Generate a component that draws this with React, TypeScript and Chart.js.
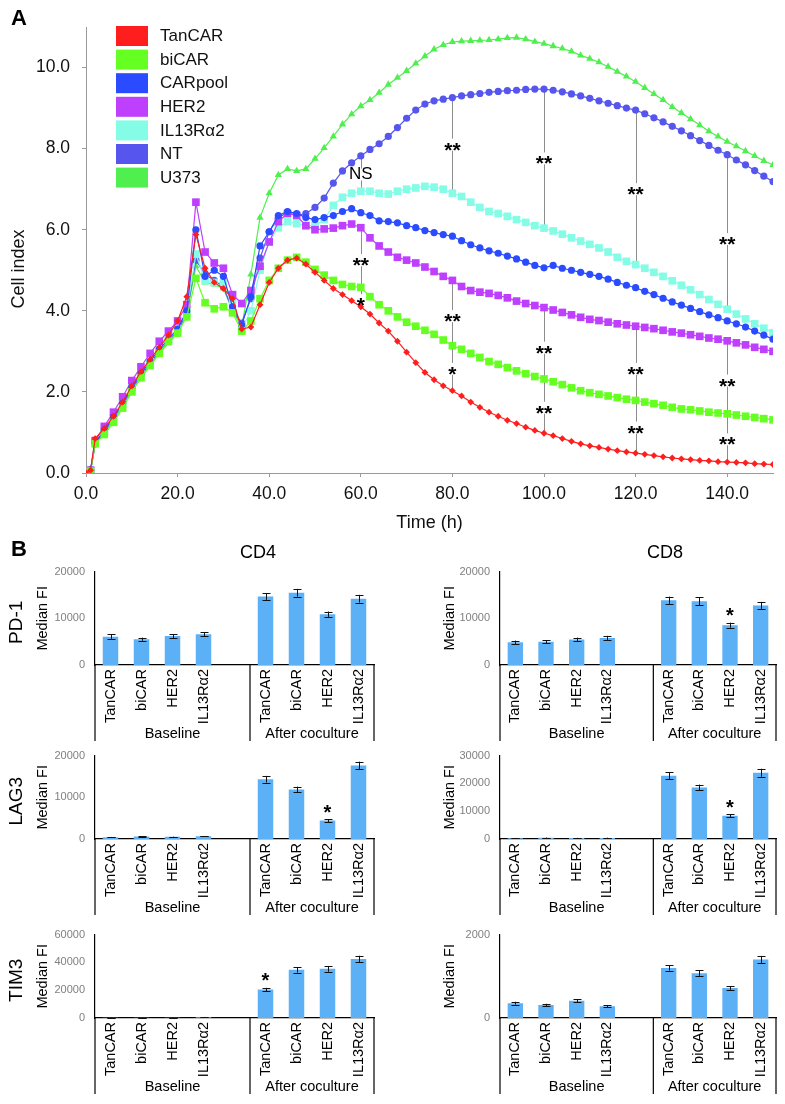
import React, { useEffect, useRef } from 'react';
import { Chart, registerables } from 'chart.js';

Chart.register(...registerables);

const FONT_FAMILY = '"Liberation Sans", Arial, Helvetica, sans-serif';

// ---------------- Panel A data ----------------
const hours = [0, 1, 2, 4, 6, 8, 10, 12, 14, 16, 18, 20, 22, 24, 26, 28, 30, 32, 34, 36, 38, 40, 42, 44, 46, 48, 50, 52, 54, 56, 58, 60, 62, 64, 66, 68, 70, 72, 74, 76, 78, 80, 82, 84, 86, 88, 90, 92, 94, 96, 98, 100, 102, 104, 106, 108, 110, 112, 114, 116, 118, 120, 122, 124, 126, 128, 130, 132, 134, 136, 138, 140, 142, 144, 146, 148, 150];

const tanCAR = [0, 0.07, 0.85, 1.1, 1.4, 1.75, 2.15, 2.5, 2.8, 3.1, 3.4, 3.75, 4.35,
  5.88, 5.05, 4.7, 4.55, 4.3, 3.55, 3.6, 4.15, 4.7, 5.05, 5.25, 5.3, 5.15,
  4.95, 4.75, 4.55, 4.4, 4.25, 4.1, 3.92, 3.7, 3.5, 3.25, 2.98, 2.72,
  2.48, 2.3, 2.15, 2.03, 1.9, 1.75, 1.62, 1.5, 1.4, 1.3, 1.22, 1.13,
  1.05, 0.98, 0.92, 0.85, 0.78, 0.72, 0.67, 0.63, 0.59, 0.55, 0.52, 0.49,
  0.46, 0.43, 0.4, 0.37, 0.35, 0.33, 0.31, 0.3, 0.28, 0.27, 0.26, 0.25, 0.23, 0.22, 0.21];

const biCAR = [0, 0.05, 0.72, 0.95, 1.25, 1.6, 2.0, 2.35, 2.65, 2.95, 3.25, 3.45, 3.85,
  4.8, 4.2, 4.05, 4.1, 3.95, 3.5, 3.75, 4.3, 4.75, 5.05, 5.25, 5.32, 5.2,
  5.02, 4.88, 4.75, 4.65, 4.6, 4.58, 4.35, 4.15, 4.0, 3.85, 3.72, 3.62,
  3.52, 3.42, 3.28, 3.14, 3.05, 2.95, 2.85, 2.75, 2.68, 2.6, 2.52, 2.45,
  2.38, 2.32, 2.25, 2.18, 2.1, 2.03, 1.98, 1.94, 1.9, 1.86, 1.82, 1.79,
  1.75, 1.71, 1.67, 1.62, 1.58, 1.56, 1.53, 1.5, 1.48, 1.46, 1.43, 1.4, 1.37, 1.34, 1.31];

const carPool = [0, 0.08, 0.75, 1.05, 1.38, 1.72, 2.1, 2.45, 2.75, 3.05, 3.3, 3.55, 4.0,
  6.0, 4.85, 5.0, 4.85, 4.1, 3.65, 4.35, 5.6, 5.95, 6.35, 6.45, 6.4, 6.3,
  6.25, 6.3, 6.35, 6.45, 6.52, 6.42, 6.35, 6.22, 6.2, 6.17, 6.1, 6.05,
  5.98, 5.93, 5.88, 5.84, 5.73, 5.63, 5.55, 5.48, 5.42, 5.35, 5.28, 5.2,
  5.12, 5.06, 5.12, 5.05, 5.0, 4.95, 4.9, 4.85, 4.78, 4.7, 4.63, 4.57,
  4.48, 4.4, 4.31, 4.22, 4.14, 4.06, 3.98, 3.9, 3.83, 3.75, 3.68, 3.6, 3.5, 3.4, 3.3];

const her2 = [0, 0.07, 0.8, 1.15, 1.5, 1.88, 2.28, 2.62, 2.95, 3.25, 3.5, 3.75, 4.15,
  6.68, 5.45, 5.18, 5.05, 4.4, 4.18, 4.5, 5.1, 5.7, 6.2, 6.4, 6.35, 6.1,
  6.0, 6.02, 6.04, 6.1, 6.14, 6.05, 5.8, 5.6, 5.45, 5.32, 5.25, 5.18,
  5.08, 4.97, 4.85, 4.75, 4.6, 4.5, 4.46, 4.43, 4.38, 4.32, 4.24, 4.18,
  4.13, 4.08, 4.02, 3.96, 3.9, 3.84, 3.79, 3.76, 3.72, 3.68, 3.65, 3.62,
  3.59, 3.56, 3.52, 3.48, 3.45, 3.41, 3.37, 3.33, 3.3, 3.26, 3.21, 3.16, 3.1, 3.05, 3.0];

const il13Ra2 = [0, 0.06, 0.76, 1.05, 1.38, 1.72, 2.1, 2.45, 2.75, 3.05, 3.3, 3.55, 4.0,
  5.4, 4.75, 4.7, 4.7, 4.25, 3.55, 4.0, 5.0, 5.7, 6.05, 6.2, 6.15, 6.1,
  6.1, 6.25, 6.6, 6.8, 6.9, 6.95, 6.95, 6.9, 6.88, 6.95, 7.0, 7.03,
  7.07, 7.05, 7.0, 6.9, 6.82, 6.68, 6.55, 6.45, 6.4, 6.33, 6.25, 6.18,
  6.1, 6.04, 5.97, 5.89, 5.8, 5.72, 5.64, 5.55, 5.45, 5.32, 5.22, 5.14,
  5.05, 4.95, 4.85, 4.74, 4.63, 4.52, 4.4, 4.28, 4.16, 4.04, 3.92, 3.8, 3.68, 3.57, 3.46];

const nt = [0, 0.07, 0.72, 1.02, 1.35, 1.7, 2.05, 2.4, 2.7, 3.0, 3.25, 3.5, 3.95,
  5.25, 4.9, 4.75, 4.6, 4.0, 3.7, 4.3, 5.3, 5.95, 6.3, 6.42, 6.35, 6.4,
  6.55, 6.78, 7.15, 7.45, 7.65, 7.82, 7.98, 8.12, 8.3, 8.52, 8.75, 8.95,
  9.1, 9.18, 9.22, 9.26, 9.3, 9.33, 9.36, 9.39, 9.41, 9.43, 9.44, 9.46,
  9.47, 9.47, 9.44, 9.4, 9.35, 9.3, 9.24, 9.18, 9.12, 9.06, 9.0, 8.95,
  8.86, 8.76, 8.66, 8.55, 8.44, 8.32, 8.2, 8.08, 7.96, 7.85, 7.72, 7.6, 7.46, 7.32, 7.19];

const u373 = [0, 0.05, 0.7, 0.98, 1.3, 1.65, 2.0, 2.35, 2.65, 2.95, 3.2, 3.45, 3.9,
  5.1, 4.7, 4.65, 4.55, 4.0, 3.6, 4.9, 6.3, 6.9, 7.35, 7.5, 7.45, 7.5,
  7.75, 8.02, 8.3, 8.6, 8.85, 9.05, 9.2, 9.38, 9.58, 9.75, 9.92, 10.1,
  10.28, 10.45, 10.56, 10.63, 10.65, 10.66, 10.67, 10.68, 10.7, 10.73, 10.74, 10.7,
  10.64, 10.59, 10.53, 10.47, 10.4, 10.3, 10.22, 10.13, 10.02, 9.9, 9.78, 9.65,
  9.5, 9.35, 9.2, 9.03, 8.88, 8.73, 8.58, 8.43, 8.3, 8.17, 8.06, 7.94, 7.82, 7.7, 7.6];

const seriesNames = ['TanCAR', 'biCAR', 'CARpool', 'HER2', 'IL13Rα2', 'NT', 'U373'];
const seriesValues = [tanCAR, biCAR, carPool, her2, il13Ra2, nt, u373];
const seriesColors = ['#ff1e1e', '#66ff22', '#2a4bff', '#bf3fff', '#84fce6', '#5656ee', '#4fef4f'];
const seriesMarkers = ['rectRot', 'rect', 'circle', 'rect', 'rect', 'circle', 'triangle'];
const seriesMarkerSize = [3.4, 5.4, 3.6, 5.4, 5.4, 3.6, 4.2];

// significance marks: time, line from / to (cell index), label and label position
const sigMarks = [
  { t: 60, from: 7.75, to: 7.02, label: 'NS', at: 7.36 },
  { t: 60, from: 6.0, to: 4.58, label: '**', at: 5.25 },
  { t: 60, from: 4.58, to: 4.1, label: '*', at: 4.26 },
  { t: 80, from: 9.22, to: 6.92, label: '**', at: 8.1 },
  { t: 80, from: 4.72, to: 3.14, label: '**', at: 3.87 },
  { t: 80, from: 3.14, to: 2.03, label: '*', at: 2.57 },
  { t: 100, from: 9.45, to: 6.05, label: '**', at: 7.76 },
  { t: 100, from: 4.06, to: 2.33, label: '**', at: 3.09 },
  { t: 100, from: 2.33, to: 0.98, label: '**', at: 1.61 },
  { t: 120, from: 8.93, to: 5.14, label: '**', at: 7.0 },
  { t: 120, from: 3.62, to: 1.8, label: '**', at: 2.57 },
  { t: 120, from: 1.8, to: 0.49, label: '**', at: 1.12 },
  { t: 140, from: 7.83, to: 4.04, label: '**', at: 5.77 },
  { t: 140, from: 3.26, to: 1.46, label: '**', at: 2.28 },
  { t: 140, from: 1.46, to: 0.27, label: '**', at: 0.83 },
];

// ---------------- Panel B data ----------------
const barCategories = ['TanCAR', 'biCAR', 'HER2', 'IL13Rα2', '', 'TanCAR', 'biCAR', 'HER2', 'IL13Rα2'];
const groupNames = ['Baseline', 'After coculture'];

const cd4PD1 = [6070, 5530, 6200, 6600, null, 14670, 15470, 10870, 14200];
const cd4PD1Err = [470, 330, 430, 430, null, 730, 830, 570, 830];
const cd8PD1 = [4850, 4980, 5460, 5800, null, 13860, 13650, 8530, 12760];
const cd8PD1Err = [370, 300, 400, 440, null, 780, 820, 550, 750];
const cd4LAG3 = [440, 590, 510, 660, null, 14340, 11900, 4410, 17650];
const cd4LAG3Err = [60, 50, 50, 60, null, 800, 660, 330, 900];
const cd8LAG3 = [300, 450, 350, 400, null, 22750, 18570, 8350, 23850];
const cd8LAG3Err = [80, 80, 80, 80, null, 1260, 1000, 550, 1430];
const cd4TIM3 = [200, 250, 200, 600, null, 20500, 34700, 35350, 42500];
const cd4TIM3Err = [100, 100, 100, 150, null, 1200, 2000, 2100, 2300];
const cd8TIM3 = [356, 313, 415, 284, null, 1200, 1076, 720, 1404];
const cd8TIM3Err = [33, 29, 36, 29, null, 62, 65, 44, 84];

const barPanels = [
  { marker: 'PD-1', values: cd4PD1, errors: cd4PD1Err, max: 20000, step: 10000, star: -1, row: 0, col: 0 },
  { marker: 'PD-1', values: cd8PD1, errors: cd8PD1Err, max: 20000, step: 10000, star: 7, row: 0, col: 1 },
  { marker: 'LAG3', values: cd4LAG3, errors: cd4LAG3Err, max: 20000, step: 10000, star: 7, row: 1, col: 0 },
  { marker: 'LAG3', values: cd8LAG3, errors: cd8LAG3Err, max: 30000, step: 10000, star: 7, row: 1, col: 1 },
  { marker: 'TIM3', values: cd4TIM3, errors: cd4TIM3Err, max: 60000, step: 20000, star: 5, row: 2, col: 0 },
  { marker: 'TIM3', values: cd8TIM3, errors: cd8TIM3Err, max: 2000, step: 2000, star: -1, row: 2, col: 1 },
];

const rowLayout = [
  { top: 555, padTop: 10, plot: 100 },
  { top: 739, padTop: 9, plot: 91 },
  { top: 918, padTop: 9, plot: 91 },
];
const colLayout = [
  { left: 0, width: 392, axis: 95, padRight: 18, titleGap: 52, showMarker: true },
  { left: 392, width: 393, axis: 108, padRight: 9, titleGap: 50, showMarker: false },
];
const X_AXIS_H = 80;
const BAR_COLOR = '#5cb0f6';

// ---------------- Panel A ----------------
const legendPlugin = {
  id: 'customLegend',
  afterDraw(chart: any) {
    const ctx = chart.ctx;
    ctx.save();
    chart.data.datasets.forEach((ds: any, i: number) => {
      const top = 26 + i * 23.6;
      ctx.fillStyle = ds.borderColor;
      ctx.fillRect(116, top, 32, 20);
      ctx.fillStyle = '#111';
      ctx.font = `17px ${FONT_FAMILY}`;
      ctx.textBaseline = 'middle';
      ctx.textAlign = 'left';
      ctx.fillText(ds.label, 160, top + 10.5);
    });
    ctx.restore();
  },
};

const yTitlePlugin = {
  id: 'yTitleA',
  afterDraw(chart: any) {
    const ctx = chart.ctx;
    ctx.save();
    ctx.translate(19, 269);
    ctx.rotate(-Math.PI / 2);
    ctx.font = `18px ${FONT_FAMILY}`;
    ctx.fillStyle = '#111';
    ctx.textAlign = 'center';
    ctx.textBaseline = 'middle';
    ctx.fillText('Cell index', 0, 0);
    ctx.restore();
  },
};

const STAR_SIZE = 21;
const sigPlugin = {
  id: 'sigMarks',
  beforeDatasetsDraw(chart: any) {
    const { ctx, scales } = chart;
    const xs = scales.x;
    const ys = scales.y;
    ctx.save();
    ctx.strokeStyle = '#8c8c8c';
    ctx.lineWidth = 1;
    sigMarks.forEach((m) => {
      const px = Math.round(xs.getPixelForValue(m.t)) + 0.5;
      ctx.beginPath();
      ctx.moveTo(px, ys.getPixelForValue(m.from));
      ctx.lineTo(px, ys.getPixelForValue(m.to));
      ctx.stroke();
    });
    ctx.fillStyle = '#ffffff';
    sigMarks.forEach((m) => {
      const px = xs.getPixelForValue(m.t);
      const py = ys.getPixelForValue(m.at);
      ctx.font = m.label === 'NS' ? `17px ${FONT_FAMILY}` : `bold ${STAR_SIZE}px ${FONT_FAMILY}`;
      const w = ctx.measureText(m.label).width;
      ctx.fillRect(px - w / 2 - 1, py - 6, w + 2, 12);
    });
    ctx.restore();
  },
  afterDatasetsDraw(chart: any) {
    const { ctx, scales } = chart;
    const xs = scales.x;
    const ys = scales.y;
    ctx.save();
    ctx.fillStyle = '#000';
    ctx.textAlign = 'center';
    sigMarks.forEach((m) => {
      const px = xs.getPixelForValue(m.t);
      const py = ys.getPixelForValue(m.at);
      if (m.label === 'NS') {
        ctx.font = `17px ${FONT_FAMILY}`;
        ctx.textBaseline = 'middle';
        ctx.fillText(m.label, px, py);
      } else {
        ctx.font = `bold ${STAR_SIZE}px ${FONT_FAMILY}`;
        ctx.textBaseline = 'alphabetic';
        ctx.fillText(m.label, px, py + 0.57 * STAR_SIZE);
      }
    });
    ctx.restore();
  },
};

function PanelA() {
  const ref = useRef<HTMLCanvasElement>(null);
  useEffect(() => {
    if (!ref.current) return;
    const datasets = seriesValues.map((vals, i) => ({
      label: seriesNames[i],
      data: hours.map((h, j) => ({ x: h, y: vals[j] })),
      borderColor: seriesColors[i],
      backgroundColor: seriesColors[i],
      pointBackgroundColor: seriesColors[i],
      pointBorderColor: seriesColors[i],
      pointBorderWidth: 0,
      pointStyle: seriesMarkers[i],
      pointRadius: seriesMarkerSize[i],
      borderWidth: 1.2,
      tension: 0,
    }));
    const chart = new Chart(ref.current, {
      type: 'line',
      data: { datasets } as any,
      options: {
        animation: false,
        responsive: false,
        events: [],
        layout: { padding: { top: 27, right: 12, left: 0, bottom: 0 } },
        plugins: { legend: { display: false }, tooltip: { enabled: false } },
        scales: {
          x: {
            type: 'linear',
            min: 0,
            max: 150,
            ticks: {
              stepSize: 20,
              includeBounds: false,
              maxRotation: 0,
              padding: 7,
              color: '#111',
              font: { size: 17.5, family: FONT_FAMILY },
              callback: (v: any) => Number(v).toFixed(1),
            },
            grid: { drawOnChartArea: false, drawTicks: true, tickLength: 4, color: '#9a9a9a' },
            border: { color: '#9a9a9a', width: 1 },
            title: {
              display: true,
              text: 'Time (h)',
              color: '#111',
              font: { size: 18, family: FONT_FAMILY },
              padding: { top: 0, bottom: 6 },
            },
            afterFit: (s: any) => { s.height = 67; },
          },
          y: {
            min: 0,
            max: 11,
            ticks: {
              stepSize: 2,
              includeBounds: false,
              padding: 12,
              color: '#111',
              font: { size: 17.5, family: FONT_FAMILY },
              callback: (v: any) => Number(v).toFixed(1),
            },
            grid: { drawOnChartArea: false, drawTicks: true, tickLength: 4, color: '#9a9a9a' },
            border: { color: '#9a9a9a', width: 1 },
            afterFit: (s: any) => { s.width = 86; },
          },
        },
      } as any,
      plugins: [legendPlugin, yTitlePlugin, sigPlugin],
    });
    return () => chart.destroy();
  }, []);
  return <canvas ref={ref} width={785} height={540} style={{ position: 'absolute', left: 0, top: 0 }} />;
}

// ---------------- Panel B ----------------
function makeBarPlugin(panel: any, col: any) {
  return {
    id: 'barExtras',
    afterDatasetsDraw(chart: any) {
      const { ctx, chartArea, scales } = chart;
      const ys = scales.y;
      const meta = chart.getDatasetMeta(0);
      ctx.save();
      // error bars
      ctx.strokeStyle = '#111';
      ctx.lineWidth = 1;
      meta.data.forEach((el: any, i: number) => {
        const v = panel.values[i];
        const e = panel.errors[i];
        if (v == null || e == null) return;
        const x = Math.round(el.x) + 0.5;
        const yt = ys.getPixelForValue(v + e);
        const yb = ys.getPixelForValue(v - e);
        ctx.beginPath();
        ctx.moveTo(x, yt);
        ctx.lineTo(x, yb);
        ctx.moveTo(x - 4, Math.round(yt) + 0.5);
        ctx.lineTo(x + 4, Math.round(yt) + 0.5);
        ctx.moveTo(x - 4, Math.round(yb) + 0.5);
        ctx.lineTo(x + 4, Math.round(yb) + 0.5);
        ctx.stroke();
        if (i === panel.star) {
          ctx.fillStyle = '#000';
          ctx.font = `bold 20px ${FONT_FAMILY}`;
          ctx.textAlign = 'center';
          ctx.textBaseline = 'alphabetic';
          ctx.fillText('*', el.x, yt - 12 + 0.57 * 20);
        }
      });
      // group dividers and labels
      const left = chartArea.left;
      const right = chartArea.right;
      const bottom = chartArea.bottom;
      const slot = (right - left) / barCategories.length;
      const divider = left + slot * 5;
      ctx.strokeStyle = '#000';
      ctx.lineWidth = 1.2;
      [left, divider, right].forEach((x) => {
        ctx.beginPath();
        ctx.moveTo(x, bottom);
        ctx.lineTo(x, bottom + 76);
        ctx.stroke();
      });
      ctx.fillStyle = '#000';
      ctx.font = `14.5px ${FONT_FAMILY}`;
      ctx.textAlign = 'center';
      ctx.textBaseline = 'middle';
      ctx.fillText(groupNames[0], (left + divider) / 2, bottom + 69);
      ctx.fillText(groupNames[1], (divider + right) / 2, bottom + 69);
      // axis titles
      const midY = (chartArea.top + chartArea.bottom) / 2;
      ctx.save();
      ctx.translate(left - col.titleGap, midY);
      ctx.rotate(-Math.PI / 2);
      ctx.font = `14.5px ${FONT_FAMILY}`;
      ctx.fillText('Median FI', 0, 0);
      ctx.restore();
      if (col.showMarker) {
        ctx.save();
        ctx.translate(17, midY + 4);
        ctx.rotate(-Math.PI / 2);
        ctx.font = `19px ${FONT_FAMILY}`;
        ctx.fillText(panel.marker, 0, 0);
        ctx.restore();
      }
      ctx.restore();
    },
  };
}

function BarPanel({ panel }: { panel: any }) {
  const ref = useRef<HTMLCanvasElement>(null);
  const row = rowLayout[panel.row];
  const col = colLayout[panel.col];
  const height = row.padTop + row.plot + X_AXIS_H;
  useEffect(() => {
    if (!ref.current) return;
    const chart = new Chart(ref.current, {
      type: 'bar',
      data: {
        labels: barCategories,
        datasets: [
          {
            data: panel.values,
            backgroundColor: BAR_COLOR,
            borderWidth: 0,
            barPercentage: 0.5,
            categoryPercentage: 1.0,
          },
        ],
      } as any,
      options: {
        animation: false,
        responsive: false,
        events: [],
        layout: { padding: { top: row.padTop, right: col.padRight, left: 0, bottom: 0 } },
        plugins: { legend: { display: false }, tooltip: { enabled: false } },
        scales: {
          x: {
            ticks: {
              autoSkip: false,
              maxRotation: 90,
              minRotation: 90,
              padding: 4,
              color: '#000',
              font: { size: 14.5, family: FONT_FAMILY },
            },
            grid: { display: false, drawTicks: false },
            border: { color: '#000', width: 1.2 },
            afterFit: (s: any) => { s.height = X_AXIS_H; },
          },
          y: {
            min: 0,
            max: panel.max,
            ticks: {
              stepSize: panel.step,
              padding: 10,
              color: '#808080',
              font: { size: 11, family: FONT_FAMILY },
              callback: (v: any) => String(v),
            },
            grid: { display: false, drawTicks: false },
            border: { color: '#000', width: 1.2 },
            afterFit: (s: any) => { s.width = col.axis; },
          },
        },
      } as any,
      plugins: [makeBarPlugin(panel, col)],
    });
    return () => chart.destroy();
  }, []);
  return (
    <canvas
      ref={ref}
      width={col.width}
      height={height}
      style={{ position: 'absolute', left: col.left, top: row.top }}
    />
  );
}

const labelStyle: React.CSSProperties = {
  position: 'absolute',
  fontFamily: FONT_FAMILY,
  color: '#000',
  lineHeight: 1,
  whiteSpace: 'nowrap',
};

export default function App() {
  return (
    <div style={{ position: 'relative', width: 785, height: 1104, background: '#fff', overflow: 'hidden' }}>
      <style>{`body{margin:0;background:#fff;}`}</style>
      <PanelA />
      {barPanels.map((p, i) => (
        <BarPanel key={i} panel={p} />
      ))}
      <div style={{ ...labelStyle, left: 11, top: 7, fontSize: 22, fontWeight: 'bold' }}>A</div>
      <div style={{ ...labelStyle, left: 11, top: 538, fontSize: 22, fontWeight: 'bold' }}>B</div>
      <div style={{ ...labelStyle, left: 258, top: 552, fontSize: 18, transform: 'translate(-50%, -50%)' }}>CD4</div>
      <div style={{ ...labelStyle, left: 665, top: 552, fontSize: 18, transform: 'translate(-50%, -50%)' }}>CD8</div>
    </div>
  );
}
